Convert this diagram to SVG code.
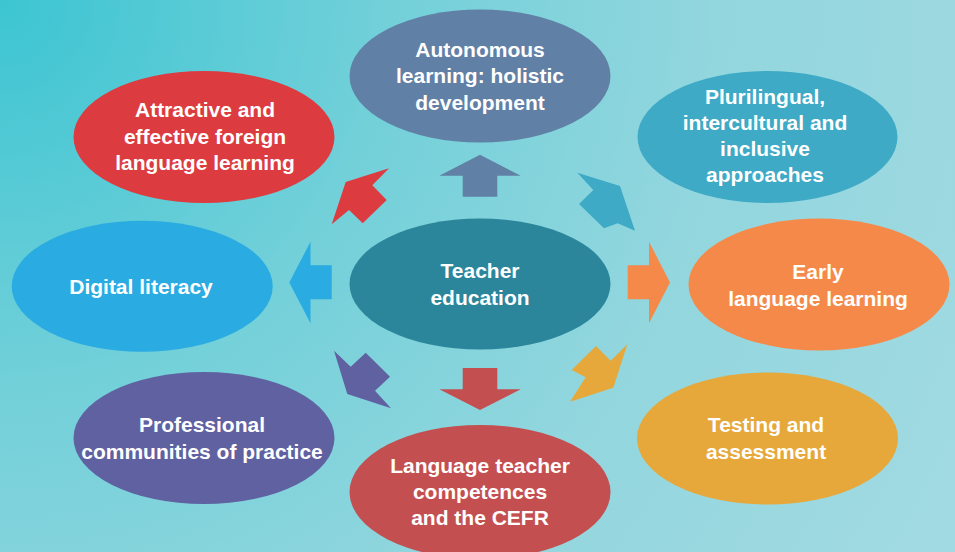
<svg xmlns="http://www.w3.org/2000/svg" width="955" height="552" viewBox="0 0 955 552">
<defs>
<radialGradient id="bg" cx="0" cy="0" r="1100" fx="0" fy="0" gradientUnits="userSpaceOnUse">
<stop offset="0" stop-color="#3cc5d2"/>
<stop offset="0.35" stop-color="#72d0d9"/>
<stop offset="0.65" stop-color="#92d6de"/>
<stop offset="1" stop-color="#a2dae2"/>
</radialGradient>
<style>
text{font-family:"Liberation Sans",Arial,sans-serif;font-weight:bold;font-size:21px;fill:#ffffff;text-anchor:middle}
</style>
</defs>
<rect x="0" y="0" width="955" height="552" fill="url(#bg)"/>
<g id="connectors">
<polygon fill="#6180a6" points="480,154.7 520.7,175.7 497.3,175.7 497.3,196.7 462.7,196.7 462.7,175.7 439.3,175.7"/>
<polygon fill="#c44f50" points="480,410 520.7,389.3 497.3,389.3 497.3,368 462.7,368 462.7,389.3 439.3,389.3"/>
<polygon fill="#2aabe2" points="289.3,282.5 310.5,241.7 310.5,265.3 331.7,265.3 331.7,299.3 310.5,299.3 310.5,323.3"/>
<polygon fill="#f5894a" points="670,282.5 649,241.7 649,265.3 627.7,265.3 627.7,299.3 649,299.3 649,323.3"/>
<polygon fill="#dc3b40" points="389,168.3 345.7,182 331.7,224.3 349,210 362.7,223.3 386.7,200 372.3,185.3"/>
<polygon fill="#3eaac6" points="577.3,172.7 620,186 635,230.7 617.7,223.3 604,228.3 579,204 593.3,190"/>
<polygon fill="#5f61a1" points="334,350.7 350.7,366.7 365.7,352.7 390,376.7 375,390.7 391,408.3 347.3,394"/>
<polygon fill="#e6a83a" points="596,346 610.7,360.7 627.3,344.3 613.3,387.7 570,401.7 585.7,377.3 571.7,370"/>
</g>
<g id="autonomous">
<ellipse cx="480" cy="76" rx="130.5" ry="66.5" fill="#6180a6"/>
<text x="480" y="56.5">Autonomous</text>
<text x="480" y="83">learning: holistic</text>
<text x="480" y="109.5">development</text>
</g>
<g id="attractive">
<ellipse cx="204" cy="137" rx="130.5" ry="66" fill="#dc3b40"/>
<text x="205" y="117">Attractive and</text>
<text x="205" y="143.5">effective foreign</text>
<text x="205" y="170">language learning</text>
</g>
<g id="plurilingual">
<ellipse cx="767.5" cy="137" rx="130" ry="66" fill="#3eaac6"/>
<text x="765" y="103.5">Plurilingual,</text>
<text x="765" y="129.8">intercultural and</text>
<text x="765" y="156">inclusive</text>
<text x="765" y="182">approaches</text>
</g>
<g id="teacher-education">
<ellipse cx="480" cy="284" rx="130.5" ry="65.5" fill="#2b869c"/>
<text x="480" y="278">Teacher</text>
<text x="480" y="304.5">education</text>
</g>
<g id="digital-literacy">
<ellipse cx="142.2" cy="286.2" rx="130.5" ry="65.5" fill="#2aabe2"/>
<text x="141" y="294">Digital literacy</text>
</g>
<g id="early">
<ellipse cx="819" cy="284.5" rx="130.5" ry="66" fill="#f5894a"/>
<text x="818" y="279">Early</text>
<text x="818" y="305.5">language learning</text>
</g>
<g id="professional">
<ellipse cx="204" cy="438" rx="130.5" ry="66" fill="#5f61a1"/>
<text x="202" y="432">Professional</text>
<text x="202" y="458.5">communities of practice</text>
</g>
<g id="testing">
<ellipse cx="767.5" cy="438.5" rx="130.5" ry="66" fill="#e6a83a"/>
<text x="766" y="432">Testing and</text>
<text x="766" y="458.5">assessment</text>
</g>
<g id="language-teacher">
<ellipse cx="480" cy="492" rx="130.5" ry="67" fill="#c44f50"/>
<text x="480" y="472.7">Language teacher</text>
<text x="480" y="499">competences</text>
<text x="480" y="525.3">and the CEFR</text>
</g>
</svg>
